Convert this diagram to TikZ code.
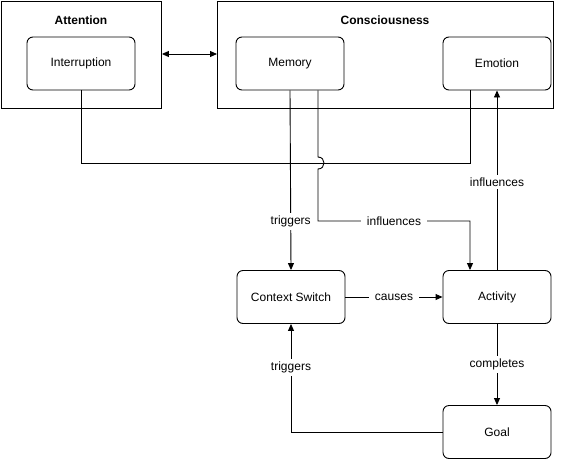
\documentclass[tikz,border=0pt]{standalone}
\usepackage{fontspec}
\setmainfont{Liberation Sans}
\usetikzlibrary{arrows.meta}
\begin{document}
\begin{tikzpicture}[x=1pt,y=-1pt,
  every node/.style={font=\fontsize{12}{14}\selectfont},
  item/.style={draw,rounded corners=6pt,minimum width=108pt,minimum height=53pt,inner sep=0pt,line width=0.9pt},
  group/.style={draw,line width=0.9pt},
  title/.style={font=\fontsize{12}{14}\selectfont\bfseries},
  conn/.style={line width=0.9pt},
  arr/.style={conn,-{Triangle[length=7pt,width=6pt]}},
  lbl/.style={fill=white,inner xsep=6pt,inner ysep=3pt}]
\useasboundingbox (0,0) rectangle (569,460);
\node[group,minimum width=160pt,minimum height=107pt,anchor=north west] (att) at (1,1) {};
\node[group,minimum width=336pt,minimum height=107pt,anchor=north west] (con) at (217,1) {};
\node[title] (atttitle) at (81,20) {Attention};
\node[title] (contitle) at (385,20) {Consciousness};
\node[item] (intr) at (81,63.5) {Interruption};
\node[item] (mem) at (290,63.5) {Memory};
\node[item] (emo) at (497,63.5) {Emotion};
\node[item] (ctx) at (291,297) {Context Switch};
\node[item] (act) at (497,297) {Activity};
\node[item] (goal) at (497,432) {Goal};
% attention <-> consciousness
\draw[conn,{Triangle[length=7pt,width=6pt]}-{Triangle[length=7pt,width=6pt]}] (att.east |- 0,54) -- (con.west |- 0,54);
% interruption -- emotion
\draw[conn] (intr.south) |- (470,163) -- ([xshift=-27pt]emo.south);
% memory -> context switch
\draw[arr] (mem.south) -- node[lbl,pos=0.73]{triggers} (ctx.north);
% memory -> activity with hop
\coordinate (hopa) at (318,157);
\coordinate (hopb) at (318,169);
\draw[arr] ([xshift=28pt]mem.south) -- (hopa) .. controls (326,157) and (326,169) .. (hopb) -- (318,221) -- node[lbl]{influences} (470,221) -- ([xshift=-27pt]act.north);
% context switch -> activity
\draw[arr] (ctx.east) -- node[lbl]{causes} (act.west);
% activity -> emotion
\draw[arr] (act.north) -- node[lbl,pos=0.49]{influences} (emo.south);
% activity -> goal
\draw[arr] (act.south) -- node[lbl]{completes} (goal.north);
% goal -> context switch
\draw[arr] (goal.west) -| node[lbl,pos=0.8]{triggers} (ctx.south);
\end{tikzpicture}
\end{document}
